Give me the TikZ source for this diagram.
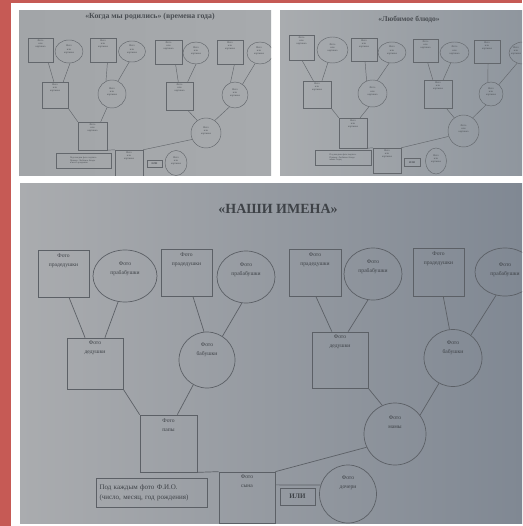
\documentclass[tikz,border=0pt]{standalone}
\usepackage{fontspec}
\setmainfont{Liberation Serif}
\usetikzlibrary{shapes.geometric}
\definecolor{redc}{HTML}{C65A55}
\definecolor{ph1a}{HTML}{A2A5A8}
\definecolor{ph1b}{HTML}{A7AAAD}
\definecolor{ph2a}{HTML}{A9ACAF}
\definecolor{ph2b}{HTML}{8F969E}
\definecolor{ph3a}{HTML}{AAACAF}
\definecolor{ph3b}{HTML}{808893}
\definecolor{lineS}{HTML}{63676C}
\definecolor{lineB}{HTML}{5C6066}
\definecolor{txtS}{HTML}{4A4E53}
\definecolor{txtB}{HTML}{3E4247}
\tikzset{
  sqS/.style={draw=lineS, line width=0.45pt, rectangle, inner sep=0pt},
  elS/.style={draw=lineS, line width=0.45pt, ellipse, inner sep=0pt},
  sqB/.style={draw=lineB, line width=0.7pt, rectangle, inner sep=0pt},
  elB/.style={draw=lineB, line width=0.7pt, ellipse, inner sep=0pt},
  conS/.style={draw=lineS, line width=0.45pt},
  conB/.style={draw=lineB, line width=0.7pt},
  labS/.style={font=\fontsize{2.6}{3.1}\selectfont, text=txtS, align=center, inner sep=0pt},
  labB/.style={font=\fontsize{5.6}{8.6}\selectfont, text=txtB, align=center, inner sep=0pt},
  tS/.style={label={[labS,anchor=north,yshift=-2pt]north:{Фото\\или\\картинка}}},
  tSc/.style={label={[labS,yshift=2pt]center:{Фото\\или\\картинка}}},
  noteS/.style={draw=lineS, line width=0.45pt, font=\fontsize{2.3}{2.8}\selectfont, text=txtS, align=left, inner sep=1.5pt, anchor=center},
  iliS/.style={draw=lineS, line width=0.45pt, font=\bfseries\fontsize{2.6}{3}\selectfont, text=txtS, inner sep=0pt},
}
\begin{document}
\begin{tikzpicture}[x=1pt,y=-1pt]
\useasboundingbox (0,0) rectangle (522,526);
\fill[white] (0,0) rectangle (522,526);
\fill[redc] (0,0) rectangle (11,526);
\fill[redc] (0,0) rectangle (522,3);

% ---------------- Photo 1 ----------------
\begin{scope}
\clip (19,11) rectangle (271,176);
\shade[left color=ph1a, right color=ph1b] (19,11) rectangle (271,176);
\node[font=\bfseries\fontsize{7.8}{9}\selectfont, text=txtS] (t1) at (150,17) {«Когда мы родились» (времена года)};
\node[sqS, tS, minimum width=25, minimum height=24] (a1) at (40.5,50) {};
\node[elS, tSc, minimum width=28, minimum height=23] (a2) at (69,51.5) {};
\node[sqS, tS, minimum width=26, minimum height=24] (a3) at (103,50) {};
\node[elS, tSc, minimum width=27, minimum height=21] (a4) at (132,51.5) {};
\node[sqS, tS, minimum width=27, minimum height=24] (a5) at (168.5,52) {};
\node[elS, tSc, minimum width=26, minimum height=22] (a6) at (196,53) {};
\node[sqS, tS, minimum width=26, minimum height=24] (a7) at (230,52) {};
\node[elS, label={[labS,yshift=2pt,xshift=-1pt]center:{Фото\\или\\картинка}}, minimum width=26, minimum height=22] (a8) at (260,53) {};
\node[sqS, tS, minimum width=26, minimum height=26] (a9) at (55,95) {};
\node[elS, tSc, minimum width=28, minimum height=28] (a10) at (112,94) {};
\node[sqS, tS, minimum width=27, minimum height=28] (a11) at (179.5,96) {};
\node[elS, tSc, minimum width=26, minimum height=26] (a12) at (235,95) {};
\node[sqS, tS, minimum width=29, minimum height=28] (a13) at (92.5,136) {};
\node[elS, tSc, minimum width=30, minimum height=30] (a14) at (206,133) {};
\node[sqS, tS, minimum width=28, minimum height=27] (a15) at (129,163.5) {};
\node[iliS, minimum width=15, minimum height=7] (a16) at (154.5,164) {ИЛИ};
\node[elS, tSc, minimum width=22, minimum height=25] (a17) at (176,163) {};
\node[noteS, minimum width=55, minimum height=15] (a18) at (83.5,160.5) {Под каждым фото подпись.\\Пример: Любимое блюдо\\и место рождения};
\draw[conS] (a1.-58) -- (a9.95);
\draw[conS] (a2.-85) -- (a9.58);
\draw[conS] (a3.-70) -- (a10.115);
\draw[conS] (a4.-105) -- (a10.65);
\draw[conS] (a5.-60) -- (a11.95);
\draw[conS] (a6.-90) -- (a11.60);
\draw[conS] (a7.-70) -- (a12.110);
\draw[conS] (a8.-115) -- (a12.55);
\draw[conS] (a9.south east) -- (a13.north west);
\draw[conS] (a10.-110) -- (a13.60);
\draw[conS] (a11.-60) -- (a14.125);
\draw[conS] (a12.-115) -- (a14.55);
\draw[conS] (a13.south east) -- (a15.north west);
\draw[conS] (a14.-155) -- (a15.north east);
\end{scope}

% ---------------- Photo 2 ----------------
\begin{scope}
\clip (280,11) rectangle (522,176);
\shade[left color=ph2a, right color=ph2b] (280,11) rectangle (522,176);
\node[font=\bfseries\fontsize{7.5}{9}\selectfont, text=txtS] (t2) at (409,19) {«Любимое блюдо»};
\node[sqS, tS, minimum width=25, minimum height=25] (b1) at (301.5,47.5) {};
\node[elS, tSc, minimum width=31, minimum height=26] (b2) at (332.5,50) {};
\node[sqS, tS, minimum width=26, minimum height=23] (b3) at (364,49.5) {};
\node[elS, tSc, minimum width=28, minimum height=21] (b4) at (392,52.5) {};
\node[sqS, tS, minimum width=25, minimum height=23] (b5) at (425.5,50.5) {};
\node[elS, tSc, minimum width=29, minimum height=21] (b6) at (454.5,52.5) {};
\node[sqS, tS, minimum width=26, minimum height=23] (b7) at (487,51.5) {};
\node[elS, label={[labS,yshift=2pt,xshift=-7pt]center:{Фото\\или\\картинка}}, minimum width=28, minimum height=22] (b8) at (523,53) {};
\node[sqS, tS, minimum width=28, minimum height=27] (b9) at (317,94.5) {};
\node[elS, tSc, minimum width=29, minimum height=27] (b10) at (372.5,93.5) {};
\node[sqS, tS, minimum width=28, minimum height=28] (b11) at (438,94) {};
\node[elS, tSc, minimum width=24, minimum height=24] (b12) at (491,94) {};
\node[sqS, tS, minimum width=28, minimum height=30] (b13) at (353,133) {};
\node[elS, tSc, minimum width=31, minimum height=32] (b14) at (463.5,131) {};
\node[sqS, tS, minimum width=28, minimum height=25] (b15) at (387,160.5) {};
\node[iliS, minimum width=16, minimum height=8] (b16) at (412,162.5) {ИЛИ};
\node[elS, tSc, minimum width=21, minimum height=26] (b17) at (436,161) {};
\node[noteS, minimum width=56, minimum height=15] (b18) at (343,157.5) {Под каждым фото подпись.\\Пример: Любимое блюдо\\мамы: борщ};
\draw[conS] (b1.-88) -- (b9.105);
\draw[conS] (b2.-110) -- (b9.70);
\draw[conS] (b3.-85) -- (b10.115);
\draw[conS] (b4.-105) -- (b10.70);
\draw[conS] (b5.-80) -- (b11.110);
\draw[conS] (b6.-110) -- (b11.70);
\draw[conS] (b7.-85) -- (b12.105);
\draw[conS] (b8.-120) -- (b12.50);
\draw[conS] (b9.south east) -- (b13.north west);
\draw[conS] (b10.-105) -- (b13.65);
\draw[conS] (b11.-60) -- (b14.125);
\draw[conS] (b12.-115) -- (b14.55);
\draw[conS] (b13.south east) -- (b15.north west);
\draw[conS] (b14.-160) -- (b15.north east);
\end{scope}

% ---------------- Photo 3 ----------------
\begin{scope}
\clip (20,184) rectangle (522,523);
\shade[left color=ph3a, right color=ph3b] (20,184) rectangle (522,523);
\node[font=\bfseries\fontsize{14}{16}\selectfont, text=txtB] (t3) at (278,209) {«НАШИ ИМЕНА»};
\node[sqB, minimum width=51, minimum height=47, label={[labB,anchor=north,yshift=-4pt]north:{Фото\\прадедушки}}] (s1) at (63.5,273.5) {};
\node[elB, minimum width=64, minimum height=52, label={[labB,yshift=7pt]center:{Фото\\прабабушки}}] (e1) at (125,276) {};
\node[sqB, minimum width=51, minimum height=47, label={[labB,anchor=north,yshift=-4pt]north:{Фото\\прадедушки}}] (s2) at (186.5,272.5) {};
\node[elB, minimum width=58, minimum height=52, label={[labB,yshift=7pt]center:{Фото\\прабабушки}}] (e2) at (246,277) {};
\node[sqB, minimum width=52, minimum height=47, label={[labB,anchor=north,yshift=-4pt]north:{Фото\\прадедушки}}] (s3) at (315,272.5) {};
\node[elB, minimum width=58, minimum height=52, label={[labB,yshift=7pt]center:{Фото\\прабабушки}}] (e3) at (373,274) {};
\node[sqB, minimum width=51, minimum height=48, label={[labB,anchor=north,yshift=-4pt]north:{Фото\\прадедушки}}] (s4) at (438.5,272) {};
\node[elB, minimum width=60, minimum height=48, label={[labB,yshift=2pt]center:{Фото\\прабабушки}}] (e4) at (505,272) {};
\node[sqB, minimum width=56, minimum height=51, label={[labB,anchor=north,yshift=-3pt]north:{Фото\\дедушки}}] (d1) at (95,363.5) {};
\node[elB, minimum width=56, minimum height=56, label={[labB,yshift=10pt]center:{Фото\\бабушки}}] (g1) at (207,360) {};
\node[sqB, minimum width=56, minimum height=56, label={[labB,anchor=north,yshift=-3pt]north:{Фото\\дедушки}}] (d2) at (340,360) {};
\node[elB, minimum width=58, minimum height=57, label={[labB,yshift=10pt]center:{Фото\\бабушки}}] (g2) at (453,358) {};
\node[sqB, minimum width=57, minimum height=57, label={[labB,anchor=north,yshift=-4pt]north:{Фото\\папы}}] (pa) at (168.5,443.5) {};
\node[elB, minimum width=62, minimum height=62, label={[labB,yshift=12pt]center:{Фото\\мамы}}] (ma) at (395,434) {};
\node[sqB, minimum width=56, minimum height=51, label={[labB,anchor=north,yshift=-3pt]north:{Фото\\сына}}] (so) at (247,497.5) {};
\node[elB, minimum width=57, minimum height=58, label={[labB,yshift=11pt]center:{Фото\\дочери}}] (da) at (348,494) {};
\node[draw=lineB, line width=0.9pt, font=\bfseries\fontsize{7}{8}\selectfont, text=txtB, inner sep=0pt, minimum width=35, minimum height=17] (il) at (297.5,496.5) {ИЛИ};
\node[draw=lineB, line width=0.7pt, font=\fontsize{7}{10}\selectfont, text=txtB, align=left, inner sep=0pt, text width=104, minimum width=111, minimum height=29, anchor=center] (nt) at (151.5,492.5) {Под каждым фото Ф.И.О.\\(число, месяц, год рождения)};
\draw[conB] (s1.-77) -- (d1.111);
\draw[conB] (e1.-105) -- (d1.69);
\draw[conB] (s2.-75) -- (g1.96);
\draw[conB] (e2.-99) -- (g1.57);
\draw[conB] (s3.-88) -- (d2.106);
\draw[conB] (e3.-101) -- (d2.74);
\draw[conB] (s4.-79) -- (g2.97);
\draw[conB] (e4.-111) -- (g2.52);
\draw[conB] (d1.south east) -- (pa.north west);
\draw[conB] (g1.-119) -- (pa.73);
\draw[conB] (d2.south east) -- (ma.114);
\draw[conB] (g2.-119) -- (ma.37);
\draw[conB] (pa.south east) -- (so.north west);
\draw[conB] (ma.-155) -- (so.north east);
\draw[conB] (so.24) -- (da.162);
\end{scope}
\end{tikzpicture}
\end{document}
